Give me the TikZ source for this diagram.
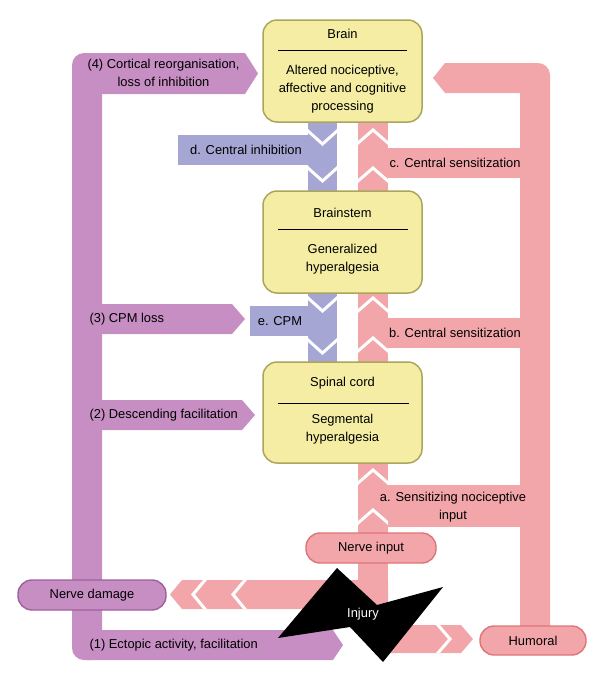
\documentclass[tikz,border=0pt]{standalone}
\usepackage{fontspec}
\setmainfont{Liberation Sans}

\definecolor{boxfill}{HTML}{F4EDA3}
\definecolor{boxline}{HTML}{ABA65C}
\definecolor{purp}{HTML}{C68EC3}
\definecolor{purpline}{HTML}{9E5F9C}
\definecolor{pinkb}{HTML}{F2A6A9}
\definecolor{pinkline}{HTML}{DF7478}
\definecolor{lav}{HTML}{A6A6D4}

\tikzset{
  region/.style={draw=boxline, fill=boxfill, line width=1.5pt, rounded corners=14pt,
    minimum width=159pt, inner sep=0pt},
  pill/.style={rounded corners=14pt, line width=1.4pt, inner sep=0pt, minimum height=30pt},
}

\begin{document}
\begin{tikzpicture}[x=1pt, y=-1pt, font=\fontsize{12.9pt}{18pt}\selectfont]

  \useasboundingbox (0,0) rectangle (600,678);

  % ── Purple pathway (left loop) ───────────────────────────────────
  \fill[purp, rounded corners=12pt] (72,53) rectangle (102,660);
  \fill[purp] (87,53)  -- (245,53)  -- (258,73.5) -- (245,94)  -- (87,94)  -- cycle;  % (4)
  \fill[purp] (90,304) -- (232,304) -- (245,319)  -- (232,334) -- (90,334) -- cycle;  % (3)
  \fill[purp] (90,400) -- (242,400) -- (255,415)  -- (242,430) -- (90,430) -- cycle;  % (2)
  \fill[purp] (87,630) -- (333,630) -- (343,645)  -- (333,660) -- (87,660) -- cycle;  % (1)

  % ── Lavender inhibition columns ──────────────────────────────────
  \fill[lav] (308,122) rectangle (337,191);
  \fill[lav] (308,293) rectangle (337,362);
  \fill[lav] (178,135) rectangle (308,165);   % d.
  \fill[lav] (250,306) rectangle (308,336);   % e.

  % ── Pink sensitization columns ───────────────────────────────────
  \fill[pinkb] (358,122) rectangle (388,191);
  \fill[pinkb] (358,293) rectangle (388,362);
  \fill[pinkb] (358,463) rectangle (388,609);
  \fill[pinkb] (388,148) rectangle (520,178);   % c.
  \fill[pinkb] (388,318) rectangle (520,348);   % b.
  \fill[pinkb] (388,485) rectangle (520,527);   % a.

  % ── Pink humoral loop (right) ────────────────────────────────────
  \fill[pinkb, rounded corners=12pt] (520,63) rectangle (550,640);
  \fill[pinkb] (433,78) -- (445,63) -- (535,63) -- (535,93) -- (445,93) -- cycle;

  % ── Pink bands from the injury ───────────────────────────────────
  \fill[pinkb] (170,594.5) -- (182,580) -- (388,580) -- (388,609) -- (182,609) -- cycle;
  \fill[pinkb] (380,625) -- (461,625) -- (473,639) -- (461,653) -- (380,653) -- cycle;

  % ── Chevron gaps ─────────────────────────────────────────────────
  \foreach \t in {128,166,296,336,468,508}{
    \fill[white] (358,\t+13) -- (373,\t) -- (388,\t+13) -- (388,\t+17) -- (373,\t+4) -- (358,\t+17) -- cycle;
  }
  \foreach \t in {129,166,296,338}{
    \fill[white] (308,\t) -- (322.5,\t+13) -- (337,\t) -- (337,\t+4) -- (322.5,\t+17) -- (308,\t+4) -- cycle;
  }
  \foreach \s in {191,231}{
    \fill[white] (\s+12,580) -- (\s,594.5) -- (\s+12,609) -- (\s+16,609) -- (\s+4,594.5) -- (\s+16,580) -- cycle;
  }
  \fill[white] (436,625) -- (448,639) -- (436,653) -- (440,653) -- (452,639) -- (440,625) -- cycle;

  % ── Regions ──────────────────────────────────────────────────────
  \node[region, minimum height=102pt] (brain)     at (342.5,71)    {};
  \node[region, minimum height=102pt] (brainstem) at (342.5,242)   {};
  \node[region, minimum height=101pt] (spinal)    at (342.5,412.5) {};

  \node (brain-title) at (342.5,34) {Brain};
  \draw[line width=0.8pt] (278,50) -- (407,50);
  \node[align=center] (brain-text) at (342.5,89) {Altered nociceptive,\\affective and cognitive\\processing};

  \node (brainstem-title) at (342.5,213) {Brainstem};
  \draw[line width=0.8pt] (278,229) -- (408,229);
  \node[align=center] (brainstem-text) at (342.5,259) {Generalized\\hyperalgesia};

  \node (spinal-title) at (342.5,383) {Spinal cord};
  \draw[line width=0.8pt] (278,403) -- (409,403);
  \node[align=center] (spinal-text) at (342.5,429) {Segmental\\hyperalgesia};

  % ── Pathway labels ───────────────────────────────────────────────
  \node[align=center] (cortical) at (163.5,73) {(4) Cortical reorganisation,\\loss of inhibition};
  \node[anchor=west] (cpmloss)   at (86,319) {(3) CPM loss};
  \node[anchor=west] (descfac)   at (86,415) {(2) Descending facilitation};
  \node[anchor=west] (ectopic)   at (86,645) {(1) Ectopic activity, facilitation};
  \node (centinh)  at (246,150)   {d. Central inhibition};
  \node (cpm)      at (280,321)   {e. CPM};
  \node (centsensc) at (455,163)  {c. Central sensitization};
  \node (centsensb) at (455,333)  {b. Central sensitization};
  \node[align=center] (sensinput) at (453,507) {a. Sensitizing nociceptive\\input};

  % ── Origins ──────────────────────────────────────────────────────
  \node[pill, fill=purp,  draw=purpline, minimum width=148pt] (nervedamage) at (92,595)    {Nerve damage};
  \node[pill, fill=pinkb, draw=pinkline, minimum width=130pt] (nerveinput)  at (371,548)   {Nerve input};
  \node[pill, fill=pinkb, draw=pinkline, minimum width=106pt, minimum height=29pt] (humoral) at (533,640.5) {Humoral};

  % ── Injury ───────────────────────────────────────────────────────
  \fill[black] (278,638) -- (337,568) -- (377,605) -- (443,587) -- (383,662) -- (350,627) -- cycle;
  \node[text=white] (injury) at (363,614) {Injury};

\end{tikzpicture}
\end{document}
